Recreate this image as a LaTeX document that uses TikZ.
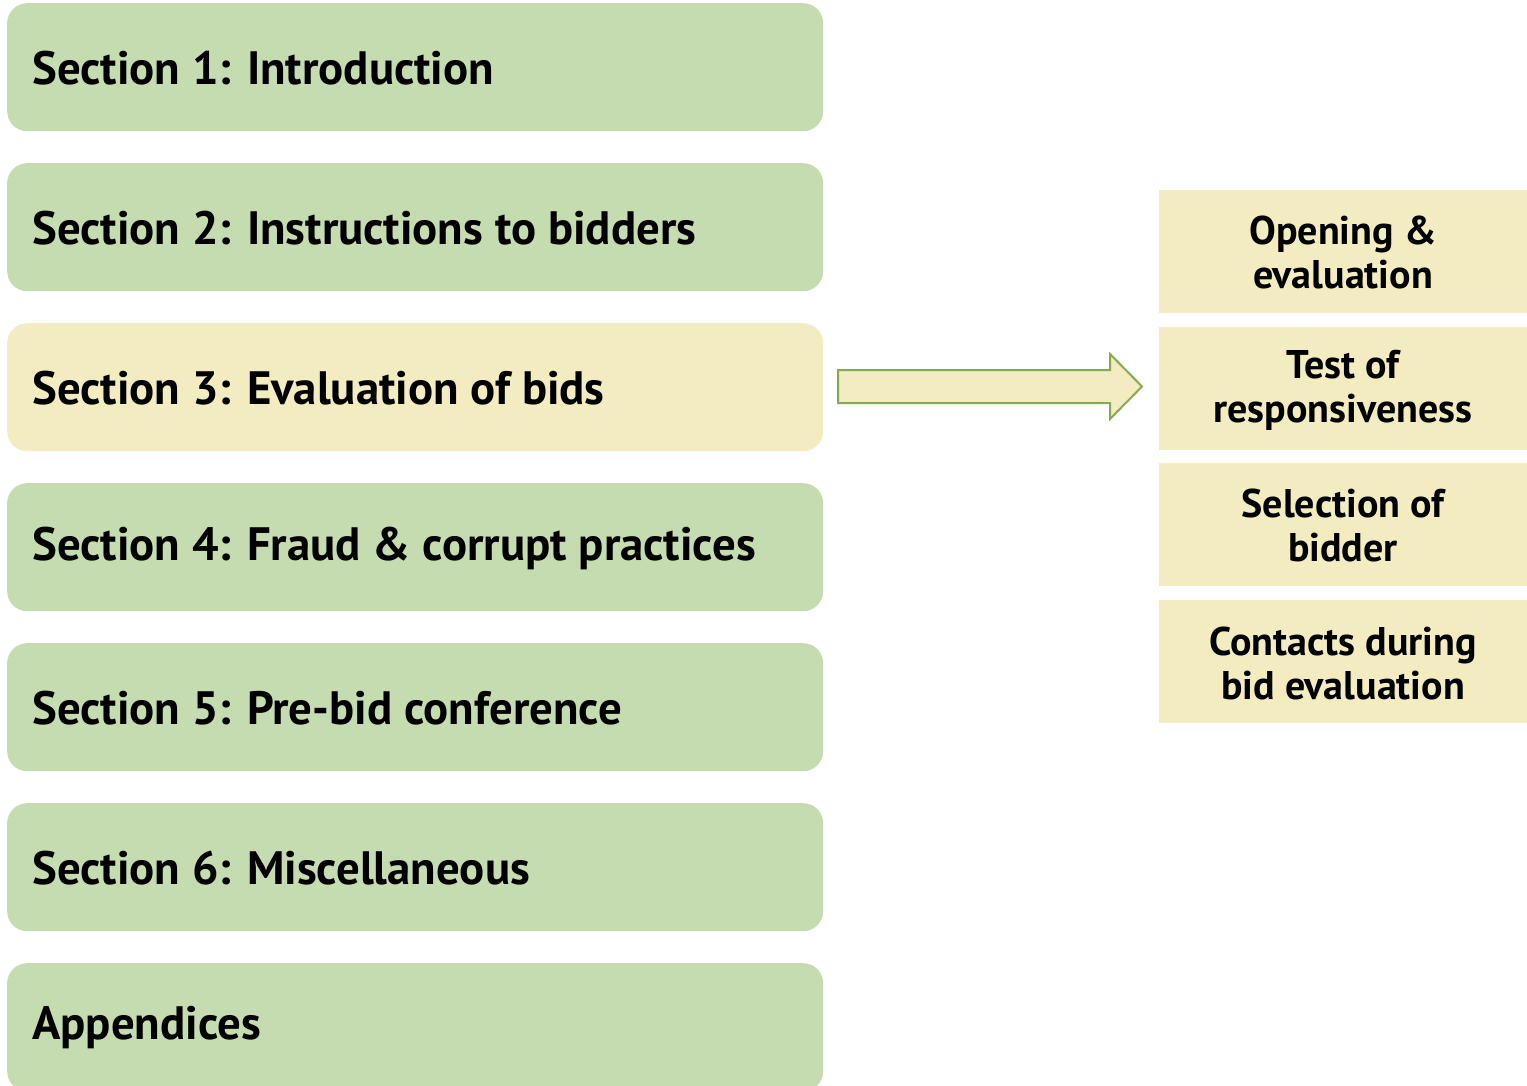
\documentclass[tikz,border=0pt]{standalone}
\usepackage{fontspec}
\setmainfont{PT Sans}
\definecolor{boxgreen}{HTML}{C5DBB0}
\definecolor{boxyellow}{HTML}{F2ECC0}
\definecolor{arrowline}{HTML}{82AC52}
\begin{document}
\begin{tikzpicture}[x=1pt,y=-1pt,
  secbox/.style={fill=boxgreen,draw=none,rounded corners=20pt,minimum width=816pt,minimum height=128pt,anchor=north west,inner sep=0pt},
  sectext/.style={anchor=west,font=\fontsize{46.8}{50}\selectfont\bfseries,inner sep=0pt},
  subbox/.style={fill=boxyellow,draw=none,minimum width=372pt,minimum height=123pt,anchor=north west,inner sep=0pt},
  subtext/.style={align=center,font=\fontsize{40}{44}\selectfont\bfseries,inner sep=0pt}]
\useasboundingbox (0,0) rectangle (1527,1086);
\clip (0,0) rectangle (1527,1086);
\node[secbox] (b1) at (7,3) {};
\node[secbox] (b2) at (7,163) {};
\node[secbox,fill=boxyellow] (b3) at (7,323) {};
\node[secbox] (b4) at (7,483) {};
\node[secbox] (b5) at (7,643) {};
\node[secbox] (b6) at (7,803) {};
\node[secbox] (b7) at (7,963) {};
\node[sectext] (t1) at (32,68) {Section 1: Introduction};
\node[sectext] (t2) at (32,228) {Section 2: Instructions to bidders};
\node[sectext] (t3) at (32,388) {Section 3: Evaluation of bids};
\node[sectext] (t4) at (32,548) {Section 4: Fraud \& corrupt practices};
\node[sectext] (t5) at (32,708) {Section 5: Pre-bid conference};
\node[sectext] (t6) at (32,868) {Section 6: Miscellaneous};
\node[sectext] (t7) at (32,1028) {Appendices};
\node[subbox] (s1) at (1159,190) {};
\node[subbox] (s2) at (1159,327) {};
\node[subbox] (s3) at (1159,463) {};
\node[subbox] (s4) at (1159,600) {};
\node[subtext] at (1343,253) {Opening \&\\evaluation};
\node[subtext] at (1343,390) {Test of\\responsiveness};
\node[subtext] at (1343,525) {Selection of\\bidder};
\node[subtext] at (1343,663) {Contacts during\\bid evaluation};
\draw[fill=boxyellow,draw=arrowline,line width=2pt,line join=miter]
  (838,370) -- (1110,370) -- (1110,354) -- (1142,386.5) -- (1110,419) -- (1110,403) -- (838,403) -- cycle;
\end{tikzpicture}
\end{document}
